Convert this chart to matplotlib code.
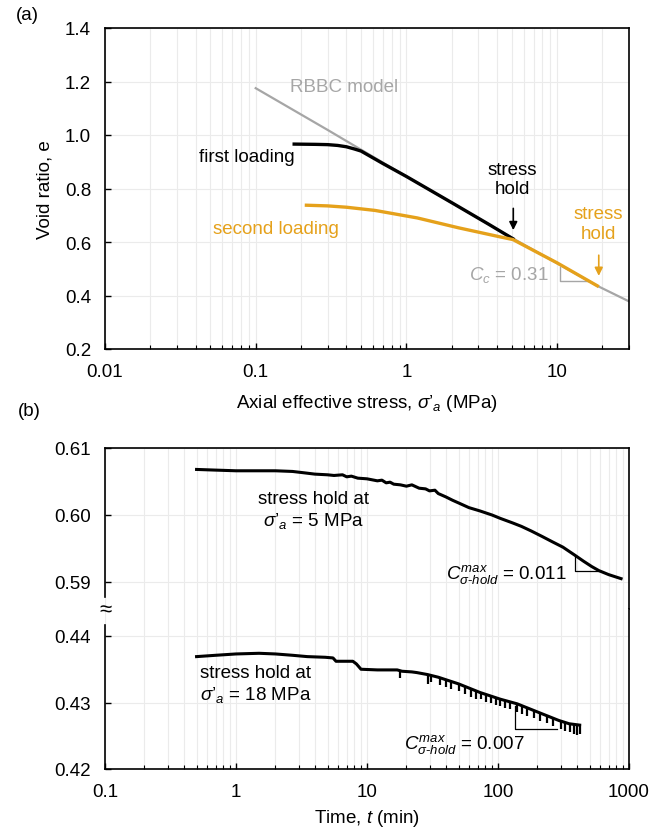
import matplotlib
matplotlib.use("Agg")
import matplotlib.pyplot as plt
import matplotlib.ticker as mticker
import numpy as np

plt.rcParams["font.family"] = ["Liberation Sans", "DejaVu Sans"]
plt.rcParams["mathtext.fontset"] = "custom"
plt.rcParams["mathtext.rm"] = "Liberation Sans"
plt.rcParams["mathtext.it"] = "Liberation Sans:italic"
plt.rcParams["mathtext.bf"] = "Liberation Sans:bold"

ORANGE = "#E5A11B"
GREY = "#A6A6A6"
GRID = "#EBEBEB"
FS = 13.5

# ---- panel (a): compression curves ----
rbbc_stress = [0.1, 0.3, 1.0, 5.1, 18.5, 30.0]
rbbc_e = [1.175, 1.019, 0.845, 0.613, 0.436, 0.378]

first_stress = [0.18, 0.25, 0.30, 0.35, 0.40, 0.45, 0.50, 0.70, 1.0, 2.0, 3.5, 5.1]
first_e = [0.966, 0.965, 0.964, 0.961, 0.956, 0.948, 0.940, 0.893, 0.845, 0.747, 0.667, 0.612]

second_stress = [0.217, 0.30, 0.40, 0.62, 1.18, 2.22, 4.2, 5.1, 7.0, 10.0, 14.0, 18.5]
second_e = [0.7375, 0.735, 0.730, 0.718, 0.690, 0.653, 0.619, 0.609, 0.568, 0.522, 0.475, 0.436]

cc_tri_x = [10.5, 10.5, 16.3]
cc_tri_y = [0.5065, 0.4525, 0.4525]

# ---- panel (b): stress holds ----
hold5_t = [0.5, 0.7, 1.0, 1.5, 2.0, 2.7, 3.3, 4.0, 5.0, 5.6, 6.5, 7.0, 7.6, 8.5, 10, 12, 13,
           14, 15, 16, 18, 20, 22, 25, 28, 30, 33, 35, 40, 45, 50, 60, 73, 90, 104, 130,
           151, 180, 217, 260, 313, 386, 450, 520, 589, 700, 870]
hold5_e = [0.6068, 0.6067, 0.6066, 0.6066, 0.6066, 0.6065, 0.6063, 0.6061, 0.6060, 0.6059,
           0.6060, 0.6057, 0.6058, 0.6055, 0.6054, 0.6051, 0.6052, 0.6048, 0.6049, 0.6046,
           0.6045, 0.6043, 0.6045, 0.6040, 0.6039, 0.6036, 0.6037, 0.6032, 0.6027, 0.6022,
           0.6018, 0.6011, 0.6006, 0.6000, 0.5995, 0.5988, 0.5983, 0.5976, 0.5968, 0.5960,
           0.5952, 0.5940, 0.5931, 0.5923, 0.5917, 0.5911, 0.5905]

hold18_t = [0.5, 0.7, 1.0, 1.5, 2.0, 2.7, 3.5, 4.8, 5.5, 5.8, 7.8, 8.3, 9.0, 12, 17, 18.5,
            22, 24, 29, 35, 50, 73, 104, 140, 217, 291, 350, 420]
hold18_e = [0.4369, 0.4371, 0.4373, 0.4374, 0.4373, 0.4371, 0.4369, 0.4368, 0.4367, 0.4362,
            0.4362, 0.4358, 0.4350, 0.4349, 0.4349, 0.4347, 0.4346, 0.4345, 0.4342, 0.4338,
            0.4328, 0.4315, 0.4305, 0.4298, 0.4283, 0.4273, 0.4268, 0.4266]

# downward spikes on the 18 MPa record
tooth_t = [18, 29, 31, 36, 40, 44, 50, 56, 62, 68, 74, 81, 88, 96, 104, 113, 124, 140,
           153, 167, 187, 211, 237, 265, 300, 327, 357, 377, 404, 420]
tooth_top = [0.4348, 0.4342, 0.4341, 0.4337, 0.4334, 0.4331, 0.4328, 0.4324, 0.4320, 0.4317,
             0.4315, 0.4312, 0.4310, 0.4307, 0.4305, 0.4303, 0.4301, 0.4298, 0.4295, 0.4292,
             0.4288, 0.4284, 0.4281, 0.4277, 0.4273, 0.4271, 0.4269, 0.4267, 0.4266, 0.4266]
tooth_bot = [0.4337, 0.4328, 0.4331, 0.4327, 0.4324, 0.4320, 0.4318, 0.4313, 0.4309, 0.4306,
             0.4305, 0.4301, 0.4299, 0.4296, 0.4294, 0.4291, 0.4290, 0.4286, 0.4283, 0.4280,
             0.4276, 0.4272, 0.4269, 0.4264, 0.4260, 0.4257, 0.4256, 0.4253, 0.4251, 0.4252]

tri5_x = [386, 386, 589]
tri5_y = [0.5940, 0.5917, 0.5917]
tri18_x = [136, 136, 283]
tri18_y = [0.4295, 0.4260, 0.4260]

SIG = "$\\sigma\u2019_a$"
CHOLD = "$C^{max}_{\\sigma\\text{-}hold}$"


def style_axis(ax):
    ax.set_xscale("log")
    ax.tick_params(which="both", direction="in", labelsize=FS, top=False, right=False)
    ax.tick_params(which="major", length=4, width=1, pad=10)
    ax.tick_params(which="minor", length=3, width=0.8)
    ax.xaxis.set_minor_formatter(mticker.NullFormatter())
    ax.xaxis.set_major_formatter(mticker.FuncFormatter(lambda v, p: f"{v:g}"))
    ax.grid(True, which="both", axis="x", color=GRID, lw=0.8)
    ax.grid(True, which="major", axis="y", color=GRID, lw=0.8)
    ax.set_axisbelow(True)
    for s in ax.spines.values():
        s.set_linewidth(1.2)


fig = plt.figure(figsize=(6.53, 8.37), dpi=100)
L, W = 105 / 653, 524 / 653

# ---------------- (a) ----------------
ax = fig.add_axes([L, 1 - 350 / 837, W, 321 / 837])
style_axis(ax)
ax.set_xlim(0.01, 30)
ax.set_ylim(0.2, 1.4)
ax.set_yticks(np.arange(0.2, 1.41, 0.2))
ax.yaxis.set_major_formatter(mticker.FormatStrFormatter("%.1f"))

ax.plot(rbbc_stress, rbbc_e, color=GREY, lw=1.6, zorder=2)
ax.plot(first_stress, first_e, color="black", lw=2.4, zorder=3)
ax.plot(second_stress, second_e, color=ORANGE, lw=2.4, zorder=4)
ax.plot(cc_tri_x, cc_tri_y, color=GREY, lw=1.0, zorder=2)

ax.text(0.168, 1.18, "RBBC model", color=GREY, fontsize=FS, va="center")
ax.text(0.042, 0.921, "first loading", color="black", fontsize=FS, va="center")
ax.text(0.052, 0.649, "second loading", color=ORANGE, fontsize=FS, va="center")
ax.text(5.05, 0.835, "stress\nhold", color="black", fontsize=FS, ha="center",
        va="center", linespacing=1.2)
ax.text(18.9, 0.670, "stress\nhold", color=ORANGE, fontsize=FS, ha="center",
        va="center", linespacing=1.2)
ax.annotate("", xy=(5.12, 0.634), xytext=(5.12, 0.736),
            arrowprops=dict(arrowstyle="-|>", color="black", lw=1.2, mutation_scale=12))
ax.annotate("", xy=(18.9, 0.463), xytext=(18.9, 0.561),
            arrowprops=dict(arrowstyle="-|>", color=ORANGE, lw=1.2, mutation_scale=12))
ax.text(8.8, 0.481, "$C_c$ = 0.31", color=GREY, fontsize=FS, ha="right", va="center")

ax.set_xlabel(f"Axial effective stress, {SIG} (MPa)", fontsize=FS, labelpad=9)
ax.set_ylabel("Void ratio, e", fontsize=FS, labelpad=8)

# ---------------- (b) broken axis ----------------
top = fig.add_axes([L, 1 - 610 / 837, W, 161 / 837])
bot = fig.add_axes([L, 1 - 770 / 837, W, 160 / 837])
for a in (top, bot):
    style_axis(a)
    a.set_xlim(0.1, 1000)
    a.yaxis.set_major_formatter(mticker.FormatStrFormatter("%.2f"))

top.set_ylim(0.61 - 161 / 6700, 0.61)
top.set_yticks([0.59, 0.60, 0.61])
top.spines["bottom"].set_visible(False)
top.spines["left"].set_bounds(0.5878, 0.61)
top.tick_params(axis="x", which="both", bottom=False, labelbottom=False)

bot.set_ylim(0.42, 0.42 + 160 / 6650)
bot.set_yticks([0.42, 0.43, 0.44])
bot.spines["top"].set_visible(False)
bot.spines["left"].set_bounds(0.42, 0.4416)

top.plot(hold5_t, hold5_e, color="black", lw=2.2)
top.plot(tri5_x, tri5_y, color="black", lw=0.9)
bot.plot(hold18_t, hold18_e, color="black", lw=2.2)
bot.vlines(tooth_t, tooth_bot, tooth_top, color="black", lw=1.6)
bot.plot(tri18_x, tri18_y, color="black", lw=0.9)

top.text(3.9, 0.6007, f"stress hold at\n{SIG} = 5 MPa", fontsize=FS,
         ha="center", va="center", linespacing=1.2)
bot.text(1.41, 0.4328, f"stress hold at\n{SIG} = 18 MPa", fontsize=FS,
         ha="center", va="center", linespacing=1.2)
top.text(335, 0.5913, f"{CHOLD} = 0.011", fontsize=FS, ha="right", va="center")
bot.text(160, 0.4239, f"{CHOLD} = 0.007", fontsize=FS, ha="right", va="center")

bot.set_xlabel("Time, $t$ (min)", fontsize=FS, labelpad=5)

fig.text(105 / 653, 1 - 611 / 837, "≈", fontsize=16, ha="center", va="center")
fig.text(27 / 653, 1 - 15 / 837, "(a)", fontsize=FS, ha="center", va="center")
fig.text(29 / 653, 1 - 411 / 837, "(b)", fontsize=FS, ha="center", va="center")

fig.savefig("out.png", dpi=100)
